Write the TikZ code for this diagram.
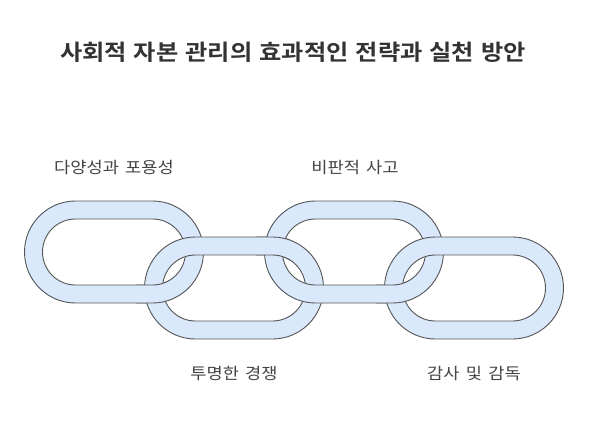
\documentclass[tikz,border=0pt]{standalone}
\usepackage{fontspec}
\setmainfont{Noto Sans CJK KR}[FakeStretch=1.1, WordSpace=1.6]
\newfontfamily\krbold{Noto Sans CJK KR Bold}[FakeStretch=1.1, WordSpace=1.3]
\definecolor{linkfill}{HTML}{DAE8FC}
\definecolor{linkline}{HTML}{555555}
\definecolor{labeltext}{HTML}{444444}
\definecolor{titletext}{HTML}{333333}
\tikzset{
  linkring/.style={fill=linkfill, draw=linkline, line width=0.9pt, even odd rule},
  lbl/.style={text=labeltext, font=\fontsize{16}{19}\selectfont, inner sep=0pt},
}
% ring centred at (#1,#2): width 179, height 102, thickness 18
\newcommand{\chainring}[2]{%
  \path[linkring]
    [rounded corners=51pt] ({#1-89.5},{#2-51}) rectangle ({#1+89.5},{#2+51})
    [rounded corners=33pt] ({#1-71.5},{#2-33}) rectangle ({#1+71.5},{#2+33});}
\begin{document}
\begin{tikzpicture}[x=1pt,y=-1pt]
\useasboundingbox[fill=white] (0,0) rectangle (589,433);
\node[text=titletext, font=\krbold\fontsize{22}{26}\selectfont, inner sep=0pt] (title) at (293,52) {사회적 자본 관리의 효과적인 전략과 실천 방안};
\chainring{114}{252}
\chainring{234}{288}
\chainring{354}{252}
\chainring{474}{288}
% over-crossings
\begin{scope}
  \clip (136,278) rectangle (166,308);
  \chainring{114}{252}
\end{scope}
\begin{scope}
  \clip (256,230) rectangle (290,261);
  \chainring{234}{288}
\end{scope}
\begin{scope}
  \clip (376,278) rectangle (406,308);
  \chainring{354}{252}
\end{scope}
\node[lbl] (l1) at (114,168) {다양성과 포용성};
\node[lbl] (l2) at (355,168) {비판적 사고};
\node[lbl] (l3) at (234,374) {투명한 경쟁};
\node[lbl] (l4) at (474,374) {감사 및 감독};
\end{tikzpicture}
\end{document}
